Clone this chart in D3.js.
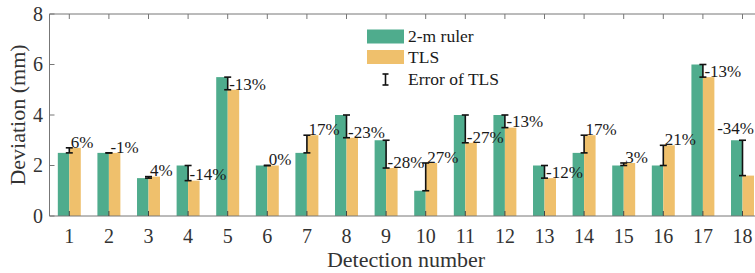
<!DOCTYPE html>
<html>
<head>
<meta charset="utf-8">
<script src="https://cdn.jsdelivr.net/npm/d3@7"></script>
<style>
    body { margin: 0; background: #fff; }
    svg { font-family: "Liberation Serif", "Times New Roman", serif; }
</style>
</head>
<body>
<div id="chart"></div>
<script>
// detection numbers and measured deviations (mm)
const detections = d3.range(1, 19);
const ruler = [2.5, 2.5, 1.5, 2.0, 5.5, 2.0, 2.5, 4.0, 3.0, 1.0, 4.0, 4.0, 2.0, 2.5, 2.0, 2.0, 6.0, 3.0];
const tls = [2.7, 2.5, 1.56, 1.4, 5.0, 2.0, 3.2, 3.1, 1.9, 2.1, 2.9, 3.5, 1.5, 3.2, 2.1, 2.8, 5.5, 1.6];
const errorLabels = ["6%", "-1%", "4%", "-14%", "-13%", "0%", "17%", "-23%", "-28%", "27%",
    "-27%", "-13%", "-12%", "17%", "3%", "21%", "-13%", "-34%"];
const yTicks = [0, 2, 4, 6, 8];
const seriesNames = ["2-m ruler", "TLS"];
const colors = ["#4fac8d", "#efc06c"];

const width = 755, height = 273;
const margin = {top: 14, left: 49.5, bottom: 57};
const plotRight = 49.5 + 18 * 39.6; // plot continues past the right edge of the picture

const svg = d3.select("#chart").append("svg")
    .attr("width", width).attr("height", height);

const x = d3.scaleBand()
    .domain(detections)
    .range([margin.left, plotRight])
    .paddingInner(0.42)
    .paddingOuter(0.21);

const x1 = d3.scaleBand()
    .domain([0, 1])
    .range([0, x.bandwidth()]);

const y = d3.scaleLinear()
    .domain([0, 8])
    .range([height - margin.bottom, margin.top]);

const cx = d => x(d) + x.bandwidth() / 2;

// bars
const groups = svg.append("g").selectAll("g")
    .data(detections)
    .join("g")
    .attr("transform", d => `translate(${x(d)},0)`);

groups.selectAll("rect")
    .data((d, i) => [ruler[i], tls[i]])
    .join("rect")
    .attr("x", (v, j) => x1(j))
    .attr("width", x1.bandwidth())
    .attr("y", v => y(v))
    .attr("height", v => y(0) - y(v))
    .attr("fill", (v, j) => colors[j]);

// frame and ticks
const axisColor = "#777";
const plot = svg.append("g");
plot.append("line").attr("x1", margin.left).attr("x2", plotRight)
    .attr("y1", y(8)).attr("y2", y(8)).attr("stroke", axisColor);
plot.append("line").attr("x1", margin.left).attr("x2", plotRight)
    .attr("y1", y(0)).attr("y2", y(0)).attr("stroke", axisColor);
plot.append("line").attr("x1", margin.left).attr("x2", margin.left)
    .attr("y1", y(0)).attr("y2", y(8)).attr("stroke", axisColor);

plot.selectAll(".ttop").data(detections).join("line")
    .attr("x1", cx).attr("x2", cx)
    .attr("y1", y(8)).attr("y2", y(8) + 5)
    .attr("stroke", axisColor);
plot.selectAll(".tbot").data(detections).join("line")
    .attr("x1", cx).attr("x2", cx)
    .attr("y1", y(0)).attr("y2", y(0) - 5)
    .attr("stroke", "#444");
plot.selectAll(".tleft").data(yTicks).join("line")
    .attr("x1", margin.left).attr("x2", margin.left + 5)
    .attr("y1", d => y(d)).attr("y2", d => y(d))
    .attr("stroke", axisColor);

// tick labels
svg.append("g").selectAll("text")
    .data(yTicks).join("text")
    .attr("x", 43).attr("y", d => y(d))
    .attr("dy", "0.34em")
    .attr("text-anchor", "end")
    .attr("font-size", 20)
    .attr("fill", "#333")
    .text(d => d);

svg.append("g").selectAll("text")
    .data(detections).join("text")
    .attr("x", cx).attr("y", 243)
    .attr("text-anchor", "middle")
    .attr("font-size", 20)
    .attr("fill", "#333")
    .text(d => d);

// axis titles
svg.append("text")
    .attr("x", 406).attr("y", 267)
    .attr("text-anchor", "middle")
    .attr("font-size", 22)
    .attr("fill", "#333")
    .text("Detection number");

svg.append("text")
    .attr("transform", `translate(25,${(y(0) + y(8)) / 2}) rotate(-90)`)
    .attr("text-anchor", "middle")
    .attr("font-size", 22)
    .attr("fill", "#333")
    .text("Deviation (mm)");

// error bars between the two values
const errG = svg.append("g").attr("stroke", "#111").attr("stroke-width", 1.6);
detections.forEach((d, i) => {
    const px = cx(d);
    const lo = y(Math.min(ruler[i], tls[i]));
    const hi = y(Math.max(ruler[i], tls[i]));
    errG.append("line").attr("x1", px).attr("x2", px).attr("y1", lo).attr("y2", hi);
    errG.append("line").attr("x1", px - 3.5).attr("x2", px + 3.5).attr("y1", lo).attr("y2", lo);
    errG.append("line").attr("x1", px - 3.5).attr("x2", px + 3.5).attr("y1", hi).attr("y2", hi);
});

// percentage labels
svg.append("g").selectAll("text")
    .data(detections).join("text")
    .attr("x", d => d === 18 ? 754 : cx(d) + 1.5)
    .attr("y", (d, i) => d === 18 ? y(ruler[i]) - 12 : y(tls[i]) - 6)
    .attr("dy", "0.34em")
    .attr("text-anchor", d => d === 18 ? "end" : "start")
    .attr("font-size", 17)
    .attr("fill", "#1a1a1a")
    .text((d, i) => errorLabels[i]);

// legend
const legend = svg.append("g").attr("transform", "translate(367,0)");
const rowY = [36.5, 57, 79.5];
seriesNames.forEach((name, i) => {
    legend.append("rect")
        .attr("x", 0).attr("y", rowY[i] - 7)
        .attr("width", 37).attr("height", 14)
        .attr("fill", colors[i]);
    legend.append("text")
        .attr("x", 41).attr("y", rowY[i]).attr("dy", "0.34em")
        .attr("font-size", 17.5).attr("fill", "#1a1a1a")
        .text(name);
});
const ey = rowY[2];
const lg = legend.append("g").attr("stroke", "#111").attr("stroke-width", 1.6);
lg.append("line").attr("x1", 18.5).attr("x2", 18.5).attr("y1", ey - 5.5).attr("y2", ey + 5.5);
lg.append("line").attr("x1", 15.5).attr("x2", 21.5).attr("y1", ey - 5.5).attr("y2", ey - 5.5);
lg.append("line").attr("x1", 15.5).attr("x2", 21.5).attr("y1", ey + 5.5).attr("y2", ey + 5.5);
legend.append("text")
    .attr("x", 41).attr("y", ey).attr("dy", "0.34em")
    .attr("font-size", 17.5).attr("fill", "#1a1a1a")
    .text("Error of TLS");
</script>
</body>
</html>
